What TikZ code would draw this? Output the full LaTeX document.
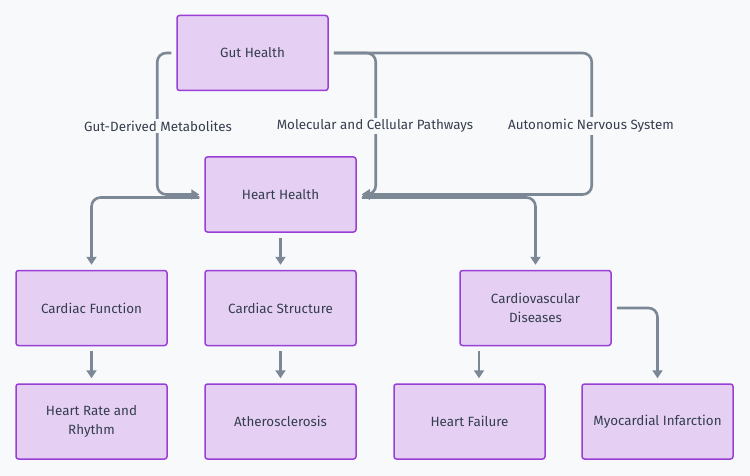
\documentclass[tikz,border=0pt]{standalone}
\usepackage{fontspec}
\setmainfont{Fira Sans}
\usetikzlibrary{arrows.meta}
\definecolor{bgc}{HTML}{F8F9FB}
\definecolor{boxfill}{HTML}{E5D0F4}
\definecolor{boxline}{HTML}{9A3FD6}
\definecolor{txt}{HTML}{363E4E}
\definecolor{lnc}{HTML}{7C8896}
\tikzset{
  box/.style={draw=boxline, fill=boxfill, line width=1.5pt, rounded corners=2.5pt,
    minimum width=151pt, minimum height=75pt, align=center, text=txt,
    font=\fontsize{13.4pt}{19pt}\selectfont, inner sep=0pt},
  conn/.style={draw=lnc, line width=2.6pt, rounded corners=9pt,
    -{Triangle[length=8pt,width=10pt]}},
  lab/.style={fill=bgc, text=txt, inner sep=2pt, font=\fontsize{13.4pt}{15pt}\selectfont}
}
\begin{document}
\begin{tikzpicture}[x=1pt,y=-1pt]
\fill[bgc] (0,0) rectangle (750,476);
\useasboundingbox (0,0) rectangle (750,476);
\node[box] (gut) at (252.5,53) {Gut Health};
\node[box] (heart) at (280.5,194.5) {Heart Health};
\node[box] (cf) at (91.5,308) {Cardiac Function};
\node[box] (cs) at (280.5,308) {Cardiac Structure};
\node[box] (cvd) at (535.5,308) {Cardiovascular\\Diseases};
\node[box] (hrr) at (91.5,421.5) {Heart Rate and\\Rhythm};
\node[box] (ath) at (280.5,421.5) {Atherosclerosis};
\node[box] (hf) at (469.5,421.5) {Heart Failure};
\node[box] (mi) at (657.5,421.5) {Myocardial Infarction};

\draw[conn] ([xshift=-5pt]gut.west) -- ++(-14,0) |- ([xshift=-5pt]heart.west);
\draw[conn] ([xshift=5pt]gut.east) -- ++(42,0) |- ([xshift=5pt]heart.east);
\draw[conn] ([xshift=5pt]gut.east) -- ++(258,0) |- ([xshift=5pt]heart.east);
\draw[conn] ([xshift=-5pt,yshift=-3pt]heart.west) -| ([yshift=5pt]cf.north);
\draw[conn] ([yshift=-5pt]heart.south) -- ([yshift=5pt]cs.north);
\draw[conn] ([xshift=5pt,yshift=-3pt]heart.east) -| ([yshift=5pt]cvd.north);
\draw[conn] ([yshift=-5pt]cf.south) -- ([yshift=5pt]hrr.north);
\draw[conn] ([yshift=-5pt]cs.south) -- ([yshift=5pt]ath.north);
\draw[conn] ([xshift=-56.5pt,yshift=-5pt]cvd.south) -- ([xshift=9.5pt,yshift=5pt]hf.north);
\draw[conn] ([xshift=5pt]cvd.east) -| ([yshift=5pt]mi.north);

\node[lab] (l1) at (158,126) {Gut-Derived Metabolites};
\node[lab] (l2) at (375,126) {Molecular and Cellular Pathways};
\node[lab] (l3) at (591,126) {Autonomic Nervous System};
\end{tikzpicture}
\end{document}
